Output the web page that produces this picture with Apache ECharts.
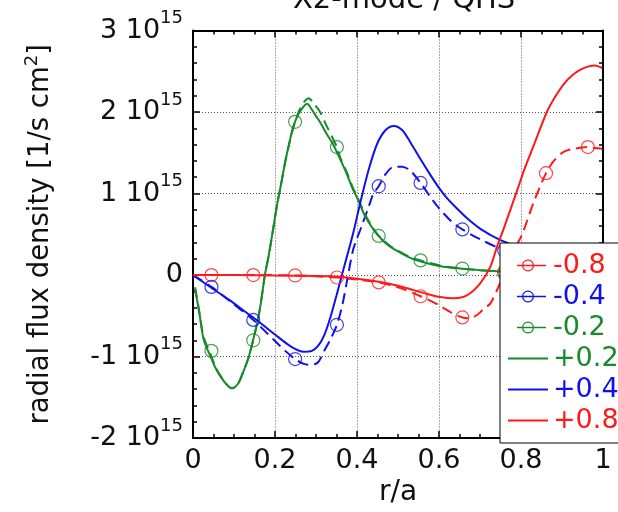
<!DOCTYPE html>
<html>
<head>
<meta charset="utf-8">
<script src="https://cdn.jsdelivr.net/npm/echarts@6/dist/echarts.min.js"></script>
<style>
html,body{margin:0;padding:0;background:#fff;}
#chart{width:618px;height:512px;}
</style>
</head>
<body>
<div id="chart"></div>
<script>
// ---- Data (flux in units of 10^15 1/(s cm^2)) ----
const titleText = 'X2-mode / QHS';
const xTicks = [0, 0.2, 0.4, 0.6, 0.8, 1];
const yTicks = [-2, -1, 0, 1, 2, 3];
const seriesNames = ['-0.8', '-0.4', '-0.2', '+0.2', '+0.4', '+0.8'];

// +0.2 (green, solid)
const gP2x = [0.005,0.015,0.026,0.042,0.055,0.067,0.08,0.095,0.11,0.123,0.135,0.144,0.155,0.164,0.176,0.184,0.195,0.205,0.215,0.225,0.235,0.245,0.258,0.27,0.278,0.29,0.30,0.31,0.325,0.343,0.36,0.376,0.39,0.40,0.42,0.44,0.46,0.48,0.50,0.53,0.56,0.60,0.63,0.656,0.70,0.75,0.80];
const gP2y = [-0.17,-0.45,-0.79,-0.99,-1.14,-1.24,-1.33,-1.39,-1.33,-1.18,-1.02,-0.85,-0.62,-0.39,0.02,0.22,0.55,0.86,1.12,1.39,1.62,1.83,1.98,2.07,2.10,2.03,1.95,1.875,1.74,1.59,1.41,1.23,1.05,0.95,0.72,0.56,0.44,0.35,0.29,0.21,0.16,0.11,0.09,0.078,0.06,0.045,0.03];
// -0.2 (green, dashed)
const gM2x = [0.005,0.015,0.026,0.042,0.055,0.067,0.08,0.095,0.11,0.123,0.135,0.147,0.155,0.164,0.176,0.184,0.195,0.205,0.215,0.225,0.235,0.249,0.26,0.272,0.282,0.295,0.31,0.325,0.351,0.36,0.376,0.39,0.40,0.42,0.44,0.453,0.48,0.50,0.53,0.555,0.60,0.63,0.657,0.70,0.759,0.80];
const gM2y = [-0.15,-0.44,-0.76,-0.96,-1.13,-1.24,-1.33,-1.39,-1.33,-1.18,-1.02,-0.80,-0.62,-0.39,0.02,0.22,0.55,0.86,1.12,1.39,1.62,1.88,2.03,2.13,2.17,2.10,2.00,1.84,1.57,1.43,1.25,1.07,0.97,0.74,0.57,0.48,0.36,0.30,0.22,0.18,0.12,0.095,0.08,0.06,0.04,0.03];
const gM2mx = [0.045,0.147,0.249,0.351,0.453,0.555,0.657,0.759];
const gM2my = [-0.93,-0.80,1.88,1.57,0.48,0.18,0.08,0.04];

// +0.4 (blue, solid)
const bP4x = [0,0.04,0.09,0.13,0.16,0.2,0.24,0.27,0.29,0.305,0.32,0.335,0.35,0.36,0.375,0.39,0.41,0.43,0.45,0.47,0.49,0.51,0.53,0.555,0.58,0.60,0.62,0.645,0.67,0.70,0.745,0.80];
const bP4y = [0,-0.14,-0.31,-0.46,-0.57,-0.73,-0.88,-0.94,-0.93,-0.87,-0.74,-0.52,-0.25,-0.06,0.22,0.50,0.93,1.32,1.62,1.78,1.83,1.78,1.63,1.42,1.22,1.07,0.94,0.81,0.69,0.57,0.44,0.33];
// -0.4 (blue, dashed)
const bM4x = [0,0.045,0.09,0.147,0.18,0.2,0.225,0.249,0.27,0.29,0.305,0.32,0.335,0.351,0.365,0.376,0.39,0.40,0.41,0.43,0.44,0.453,0.47,0.49,0.51,0.53,0.555,0.58,0.60,0.63,0.657,0.70,0.759,0.80];
const bM4y = [0,-0.145,-0.32,-0.55,-0.71,-0.81,-0.93,-1.03,-1.09,-1.10,-1.07,-0.93,-0.79,-0.61,-0.35,-0.06,0.30,0.45,0.58,0.86,1.0,1.09,1.24,1.33,1.33,1.28,1.13,0.95,0.82,0.66,0.56,0.44,0.30,0.22];
const bM4mx = [0.045,0.147,0.249,0.351,0.453,0.555,0.657,0.759];
const bM4my = [-0.145,-0.55,-1.03,-0.61,1.09,1.13,0.56,0.30];

// +0.8 (red, solid)
const rP8x = [0,0.1,0.2,0.3,0.335,0.40,0.457,0.50,0.538,0.57,0.603,0.636,0.668,0.70,0.725,0.741,0.76,0.79,0.81,0.831,0.863,0.88,0.904,0.925,0.945,0.965,0.98,0.998];
const rP8y = [0,0,-0.005,-0.01,-0.016,-0.045,-0.085,-0.13,-0.185,-0.23,-0.27,-0.285,-0.25,-0.105,0.10,0.34,0.60,1.03,1.32,1.59,2.0,2.16,2.34,2.45,2.52,2.56,2.57,2.54];
// -0.8 (red, dashed)
const rM8x = [0,0.045,0.147,0.249,0.351,0.40,0.453,0.50,0.555,0.60,0.63,0.657,0.675,0.693,0.71,0.725,0.745,0.759,0.78,0.795,0.806,0.83,0.861,0.88,0.904,0.93,0.963,0.98,0.998];
const rM8y = [0,0,0,-0.005,-0.03,-0.055,-0.09,-0.15,-0.26,-0.37,-0.46,-0.52,-0.53,-0.49,-0.41,-0.35,-0.145,0.02,0.28,0.42,0.54,0.88,1.25,1.40,1.51,1.55,1.57,1.56,1.55];
const rM8mx = [0.045,0.147,0.249,0.351,0.453,0.555,0.657,0.759,0.861,0.963];
const rM8my = [0,0,-0.005,-0.03,-0.09,-0.26,-0.52,0.02,1.25,1.57];

// ---- Styling ----
const FONT = '"DejaVu Sans", "Liberation Sans", Arial, sans-serif';
const RED = '#ff1a1a', BLUE = '#1010ee', GREEN = '#178a2a';
const zip = (xs, ys) => xs.map((x, i) => [x, ys[i]]);

function lineSeries(name, xs, ys, color, dashed) {
  return {
    name: name, type: 'line', data: zip(xs, ys), symbol: 'none', smooth: 0.3,
    lineStyle: { color: color, width: 2, type: dashed ? [11, 6] : 'solid' },
    itemStyle: { color: color }, silent: true, z: 3
  };
}
function markerSeries(name, xs, ys, color) {
  return {
    name: name + ' marker', type: 'scatter', data: zip(xs, ys), symbol: 'circle', symbolSize: 13,
    itemStyle: { color: 'rgba(0,0,0,0)', borderColor: color, borderWidth: 1.2 }, silent: true, z: 4
  };
}

const solidIcon = 'path://M0,0L0,0ZM40,14L40,14ZM0,6.1H40V7.9H0Z';
const dashIcon = 'path://M0,0L0,0ZM40,14L40,14ZM9,6.2H38V7.8H9ZM14,7A6,6 0 1,1 26,7A6,6 0 1,1 14,7ZM15.2,7A4.8,4.8 0 1,0 24.8,7A4.8,4.8 0 1,0 15.2,7Z';
const legendColors = [RED, BLUE, GREEN, GREEN, BLUE, RED];

const chart = echarts.init(document.getElementById('chart'), null, { renderer: 'canvas' });
const axisLineStyle = { color: '#000', width: 2 };
const option = {
  animation: false,
  backgroundColor: '#fff',
  textStyle: { fontFamily: FONT },
  title: {
    text: titleText, left: 288, top: -19,
    textStyle: { fontSize: 29, fontWeight: 'normal', color: '#111', fontFamily: FONT }
  },
  grid: { left: 193, right: 15, top: 30.5, bottom: 69, containLabel: false },
  legend: {
    orient: 'vertical', left: 500, top: 243,
    backgroundColor: '#fff', borderColor: '#000', borderWidth: 1, borderRadius: 0,
    padding: [9, 70, 9, 8], itemGap: 4, itemWidth: 40, itemHeight: 14,
    textStyle: { fontSize: 27, fontFamily: FONT },
    selectedMode: false, z: 10,
    data: seriesNames.map((n, i) => ({
      name: n,
      icon: i < 3 ? dashIcon : solidIcon,
      itemStyle: { color: legendColors[i], borderWidth: 0 },
      textStyle: { color: legendColors[i], fontSize: 27, fontFamily: FONT }
    }))
  },
  xAxis: [{
    type: 'value', min: 0, max: 1, interval: 0.2,
    name: 'r/a', nameLocation: 'middle', nameGap: 39,
    nameTextStyle: { fontSize: 28, color: '#111', fontFamily: FONT },
    axisLine: { show: true, onZero: false, lineStyle: axisLineStyle },
    axisTick: { show: true, inside: true, length: 7, lineStyle: { color: '#000', width: 1.5 } },
    minorTick: { show: true, splitNumber: 4, length: 4, lineStyle: { color: '#000', width: 1.5 } },
    splitLine: { show: true, lineStyle: { color: '#555', width: 1, type: [1, 2] } },
    axisLabel: {
      fontSize: 27, color: '#111', margin: 9, fontFamily: FONT,
      formatter: v => String(+v.toFixed(1))
    }
  }, {
    type: 'value', min: 0, max: 1, interval: 0.2, position: 'top',
    axisLine: { show: true, onZero: false, lineStyle: axisLineStyle },
    axisTick: { show: true, inside: true, length: 7, lineStyle: { color: '#000', width: 1.5 } },
    minorTick: { show: true, splitNumber: 4, length: 4, lineStyle: { color: '#000', width: 1.5 } },
    splitLine: { show: false }, axisLabel: { show: false }
  }],
  yAxis: [{
    type: 'value', min: -2, max: 3, interval: 1,
    name: 'radial flux density [1/s cm{s|2}]', nameLocation: 'middle', nameGap: 134,
    nameTextStyle: {
      fontSize: 27.5, color: '#111', fontFamily: FONT, lineHeight: 36,
      rich: { s: { fontSize: 18, verticalAlign: 'top', lineHeight: 18, color: '#111', fontFamily: FONT } }
    },
    axisLine: { show: true, onZero: false, lineStyle: axisLineStyle },
    axisTick: { show: true, inside: true, length: 7, lineStyle: { color: '#000', width: 1.5 } },
    minorTick: { show: true, splitNumber: 5, length: 4, lineStyle: { color: '#000', width: 1.5 } },
    splitLine: { show: true, lineStyle: { color: '#555', width: 1, type: [1, 2] } },
    axisLabel: {
      margin: 10, color: '#111', fontFamily: FONT,
      formatter: v => v === 0 ? '{a|0}' : '{a|' + v + ' 10}{s|15}',
      rich: {
        a: { fontSize: 27, lineHeight: 42, color: '#111', fontFamily: FONT },
        s: { fontSize: 18, lineHeight: 18, verticalAlign: 'top', color: '#111', fontFamily: FONT }
      }
    }
  }, {
    type: 'value', min: -2, max: 3, interval: 1, position: 'right',
    axisLine: { show: true, onZero: false, lineStyle: axisLineStyle },
    axisTick: { show: true, inside: true, length: 7, lineStyle: { color: '#000', width: 1.5 } },
    minorTick: { show: true, splitNumber: 5, length: 4, lineStyle: { color: '#000', width: 1.5 } },
    splitLine: { show: false }, axisLabel: { show: false }
  }],
  series: [
    lineSeries('-0.8', rM8x, rM8y, RED, true),
    lineSeries('-0.4', bM4x, bM4y, BLUE, true),
    lineSeries('-0.2', gM2x, gM2y, GREEN, true),
    lineSeries('+0.2', gP2x, gP2y, GREEN, false),
    lineSeries('+0.4', bP4x, bP4y, BLUE, false),
    lineSeries('+0.8', rP8x, rP8y, RED, false),
    markerSeries('-0.8', rM8mx, rM8my, RED),
    markerSeries('-0.4', bM4mx, bM4my, BLUE),
    markerSeries('-0.2', gM2mx, gM2my, GREEN)
  ]
};
chart.setOption(option);
</script>
</body>
</html>
